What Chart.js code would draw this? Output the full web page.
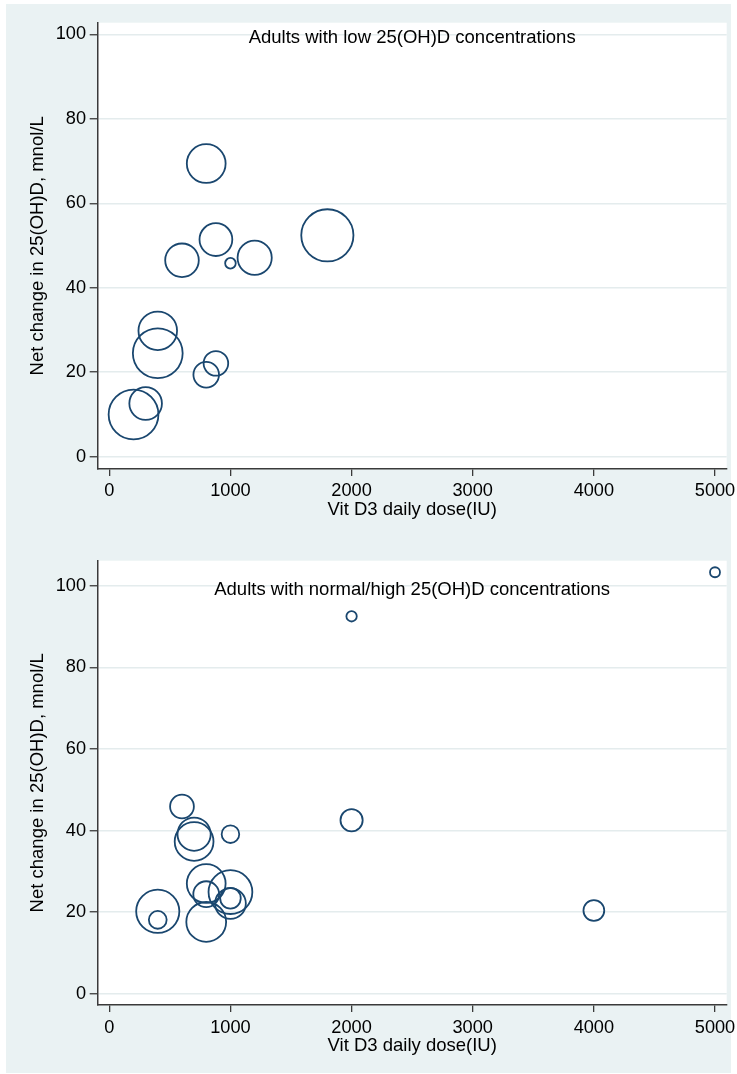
<!DOCTYPE html>
<html>
<head>
<meta charset="utf-8">
<title>Vit D3 dose vs net change in 25(OH)D</title>
<script src="https://cdn.jsdelivr.net/npm/chart.js@4"></script>
<style>
  html, body { margin: 0; padding: 0; background: #fff; }
  #page { position: relative; width: 737px; height: 1074px; overflow: hidden; }
  #bg { position: absolute; left: 6px; top: 4px; width: 725px; height: 1069px; background: #eaf2f3; }
  canvas { position: absolute; left: 0; }
  #chartLow { top: 0; }
  #chartHigh { top: 530px; }
</style>
</head>
<body>
<div id="page">
  <div id="bg"></div>
  <canvas id="chartLow" width="737" height="530"></canvas>
  <canvas id="chartHigh" width="737" height="544"></canvas>
</div>
<script>
// axis ticks and titles
const xTicks = [0, 1000, 2000, 3000, 4000, 5000];
const yTicks = [0, 20, 40, 60, 80, 100];
const xTitle = 'Vit D3 daily dose(IU)';
const yTitle = 'Net change in 25(OH)D, mnol/L';

// top panel: adults with low 25(OH)D
const lowTitle = 'Adults with low 25(OH)D concentrations';
const lowDose   = [200, 300, 400, 400, 600, 800, 800, 880, 880, 1000, 1200, 1800];
const lowChange = [10.0, 12.6, 24.5, 29.8, 46.5, 19.4, 69.4, 22.1, 51.4, 45.8, 47.1, 52.4];
const lowSize   = [24.9, 16.3, 24.9, 19.3, 16.8, 12.8, 19.4, 12.3, 16.4, 5.3, 17.1, 26.1];

// bottom panel: adults with normal/high 25(OH)D
const highTitle = 'Adults with normal/high 25(OH)D concentrations';
const highDose   = [400, 400, 600, 700, 700, 800, 800, 800, 1000, 1000, 1000, 1000, 2000, 2000, 4000, 5000];
const highChange = [20.2, 18.1, 45.9, 39.1, 37.3, 27.0, 24.4, 17.6, 39.1, 24.9, 22.1, 23.4, 92.5, 42.5, 20.4, 103.3];
const highSize   = [21.6, 8.9, 11.9, 16.6, 19.4, 19.4, 12.9, 19.9, 8.8, 21.9, 15.4, 10.3, 5.2, 11.1, 10.4, 5.0];

const FONT = '"Liberation Sans", Arial, sans-serif';
const NAVY = '#1a476f';
const AXIS = '#3a3a3a';
const GRID = '#e4eced';

Chart.defaults.font.family = FONT;
Chart.defaults.color = '#000';

// white plot region on top of the light panel background
const plotBg = {
    id: 'plotBg',
    beforeDraw(chart) {
        const { ctx, chartArea: a } = chart;
        ctx.save();
        ctx.fillStyle = '#fff';
        ctx.fillRect(a.left, a.top, a.right - a.left, a.bottom - a.top);
        ctx.restore();
    }
};

// panel title written inside the plot at a data position (like Stata text())
const panelTitle = {
    id: 'panelTitle',
    afterDatasetsDraw(chart, args, opts) {
        const { ctx, scales: { x, y } } = chart;
        ctx.save();
        ctx.font = `${opts.size}px ${FONT}`;
        ctx.fillStyle = '#000';
        ctx.textAlign = 'center';
        ctx.textBaseline = 'alphabetic';
        ctx.fillText(opts.text, x.getPixelForValue(opts.at[0]), y.getPixelForValue(opts.at[1]) + opts.size * 0.716);
        ctx.restore();
    }
};

function makeChart(id, dose, change, size, title, p) {
    const ctx = document.getElementById(id).getContext('2d');
    return new Chart(ctx, {
        type: 'bubble',
        data: {
            datasets: [{
                data: dose.map((d, i) => ({ x: d, y: change[i], r: size[i] })),
                backgroundColor: 'rgba(0,0,0,0)',
                borderColor: NAVY,
                borderWidth: 1.8,
                hoverBorderWidth: 1.8
            }]
        },
        options: {
            responsive: false,
            animation: false,
            events: [],
            layout: { autoPadding: false, padding: { left: 0, right: 10.3, top: p.top, bottom: 0 } },
            plugins: {
                legend: { display: false },
                tooltip: { enabled: false },
                panelTitle: { text: title, at: [2500, 101], size: 18.5 }
            },
            scales: {
                x: {
                    type: 'linear',
                    min: -95.8,
                    max: 5096.6,
                    afterBuildTicks: s => { s.ticks = xTicks.map(v => ({ value: v })); },
                    afterFit: s => { s.height = p.xAxisH; s.paddingLeft = 0; s.paddingRight = 0; },
                    ticks: { font: { size: 18.2 }, padding: p.xTickPad, maxRotation: 0, autoSkip: false, color: '#000', callback: v => String(v) },
                    grid: { drawOnChartArea: false, tickLength: 7, tickColor: AXIS, lineWidth: 1.3 },
                    border: { display: true, color: AXIS, width: 1.5 },
                    title: { display: true, text: xTitle, font: { size: 18.5 }, color: '#000', padding: { top: 0, bottom: p.xTitlePad } }
                },
                y: {
                    type: 'linear',
                    min: p.yMin,
                    max: p.yMax,
                    afterBuildTicks: s => { s.ticks = yTicks.map(v => ({ value: v })); },
                    afterFit: s => { s.width = 97.7; s.paddingTop = 0; s.paddingBottom = 0; },
                    ticks: { font: { size: 18.2 }, padding: 3.7, color: '#000', callback: v => String(v) },
                    grid: { color: GRID, lineWidth: 1.5, tickLength: 8, tickColor: AXIS, tickWidth: 1.3 },
                    border: { display: true, color: AXIS, width: 1.5 },
                    title: { display: true, text: yTitle, font: { size: 18.5 }, color: '#000', padding: { top: 26.9, bottom: 0 } }
                }
            }
        },
        plugins: [plotBg, panelTitle]
    });
}

makeChart('chartLow', lowDose, lowChange, lowSize, lowTitle,
    { top: 22.7, yMin: -2.91, yMax: 102.75, xAxisH: 61, xTickPad: 3.9, xTitlePad: 8.9 });
makeChart('chartHigh', highDose, highChange, highSize, highTitle,
    { top: 30.7, yMin: -2.77, yMax: 106.13, xAxisH: 69, xTickPad: 5.3, xTitlePad: 17.3 });
</script>
</body>
</html>
